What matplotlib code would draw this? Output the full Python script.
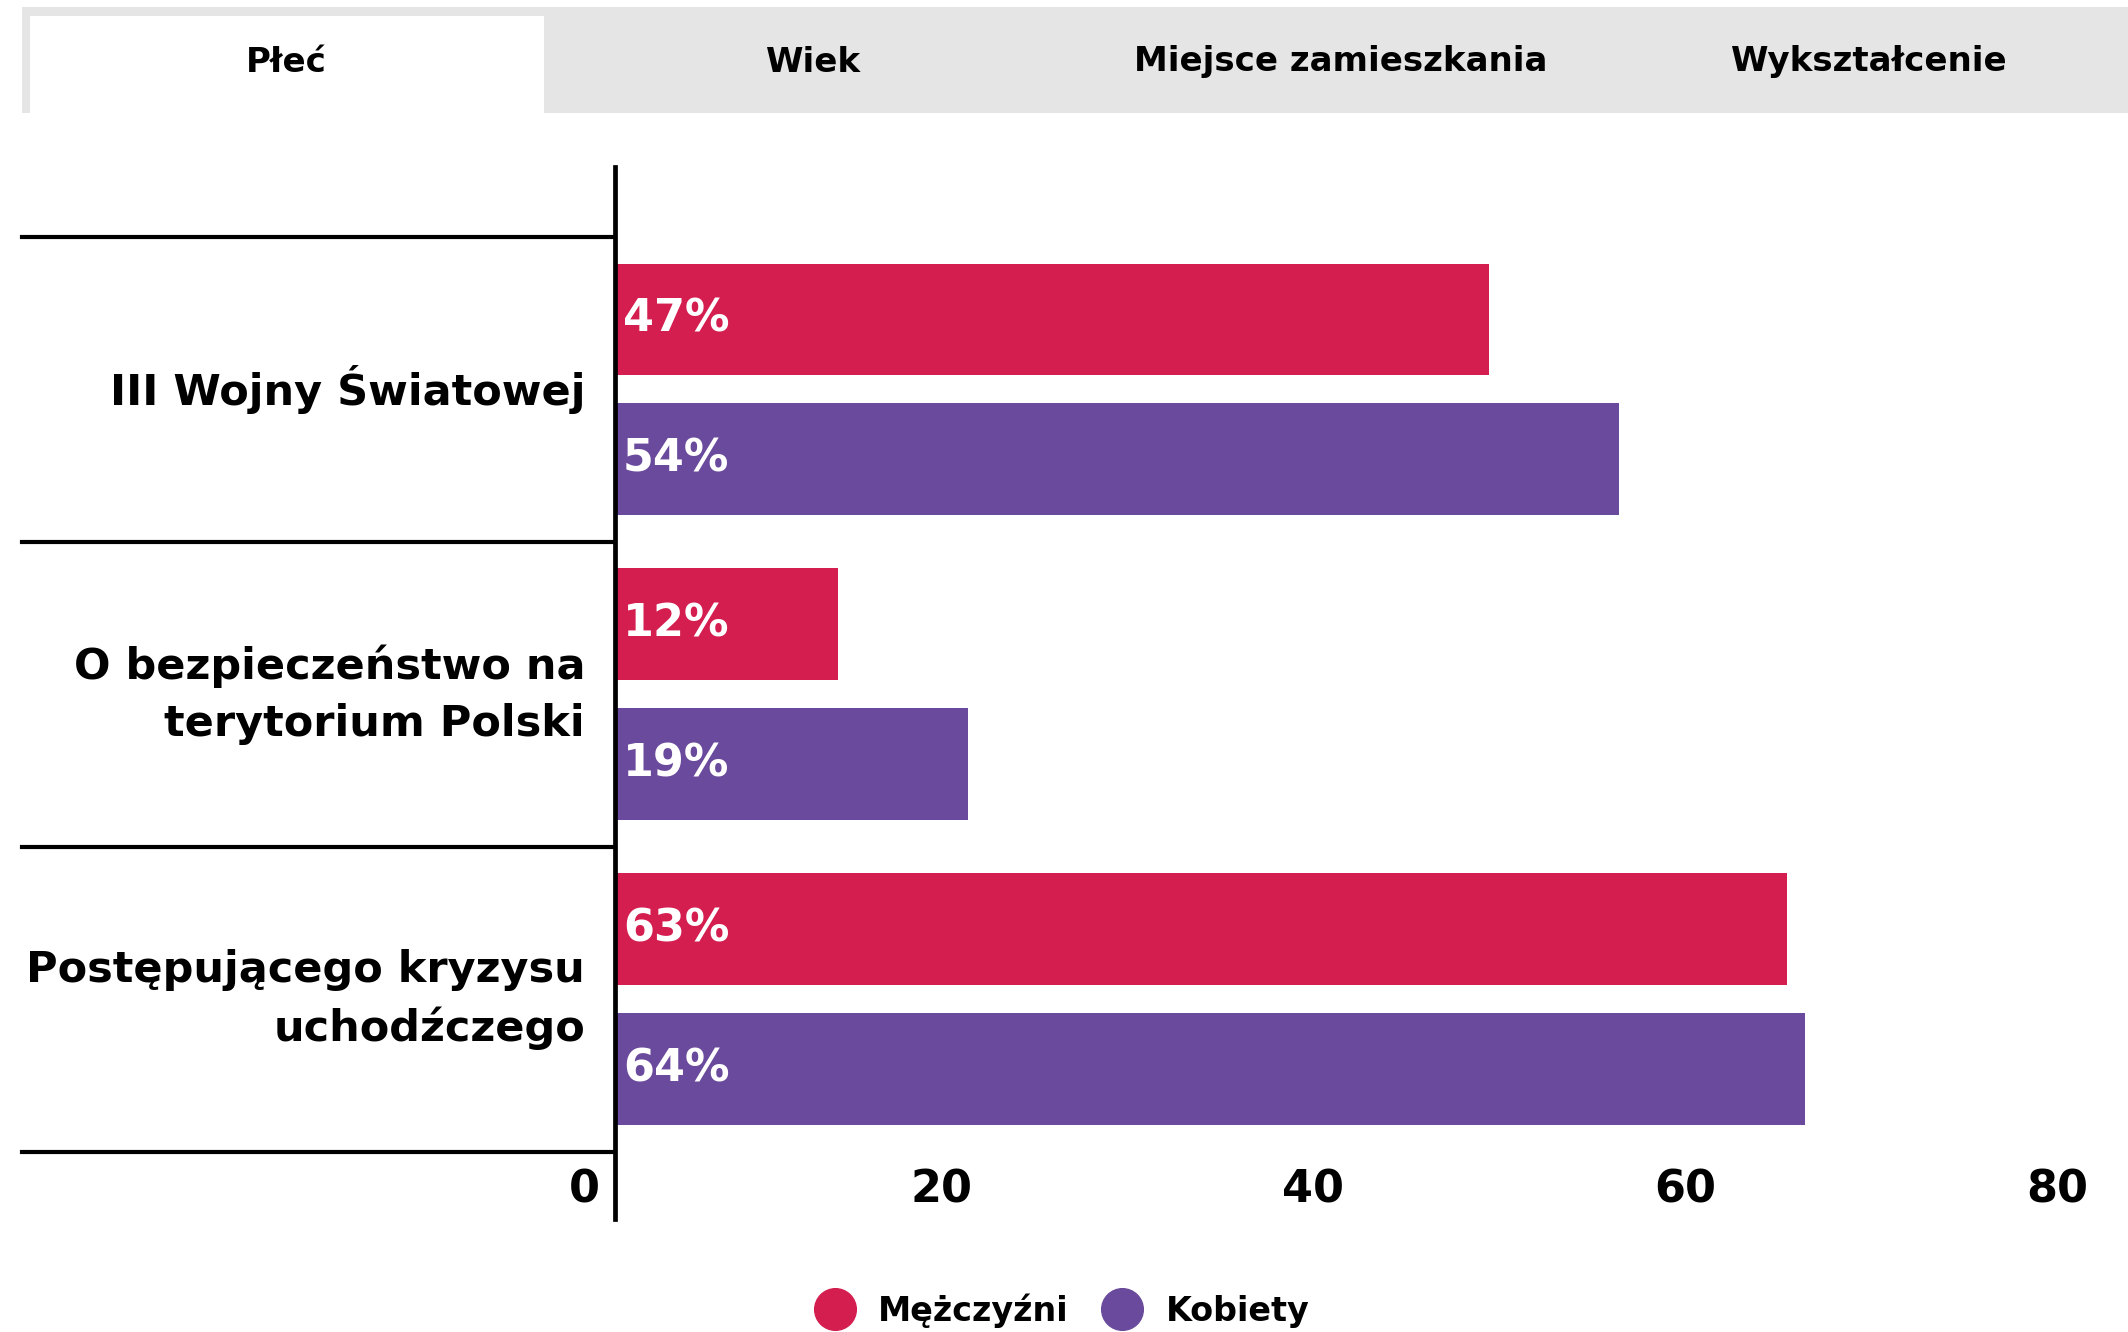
import matplotlib as mpl
mpl.use('Agg')
import matplotlib.pyplot as plt
from matplotlib.patches import Rectangle
from matplotlib.lines import Line2D
from matplotlib.transforms import offset_copy
import numpy

plt.rcParams['font.family'] = ['DejaVu Sans']

tabs = ['Płeć', 'Wiek', 'Miejsce zamieszkania', 'Wykształcenie']
categories = ['III Wojny Światowej', 'O bezpieczeństwo na\nterytorium Polski',
			  'Postępującego kryzysu\nuchodźczego']
men = [47, 12, 63]
women = [54, 19, 64]
series_names = ['Mężczyźni', 'Kobiety']
xticks = [0, 20, 40, 60, 80]

red = '#d41e50'
purple = '#6a4a9c'
W, H = 2128, 1332

fig = plt.figure(figsize=(W/100, H/100), dpi=100)

# tab bar on top
fig.add_artist(Rectangle((22/W, 1-113/H), 1-22/W, 106/H, transform=fig.transFigure,
						 facecolor='#e5e5e5', edgecolor='none'))
fig.add_artist(Rectangle((30/W, 1-113/H), 514/W, 97/H, transform=fig.transFigure,
						 facecolor='white', edgecolor='none'))
tab_x = [286, 814, 1341, 1869]
for t, x in zip(tabs, tab_x):
	fig.text(x/W, 1-62/H, t, ha='center', va='center', fontsize=24.5, fontweight='bold')

ax = fig.add_axes([615/W, 1-1219/H, (2103-615)/W, (1219-167)/H])
y = numpy.arange(len(categories))
ax.barh(y+0.27, men, height=0.367, color=red, label=series_names[0])
ax.barh(y+0.727, women, height=0.367, color=purple, label=series_names[1])
ax.set_xlim(0, 80)
ax.set_ylim(3.22, -0.23)
for s in ['top', 'right', 'bottom']:
	ax.spines[s].set_visible(False)
ax.spines['left'].set_linewidth(3.4)
ax.set_xticks([])
ax.set_yticks([])

lab_tr = offset_copy(ax.transData, fig=fig, x=8, y=0, units='dots')
for i in range(len(categories)):
	ax.text(0, i+0.27, '%d%%' % men[i], transform=lab_tr, ha='left', va='center',
			color='white', fontsize=32, fontweight='bold')
	ax.text(0, i+0.727, '%d%%' % women[i], transform=lab_tr, ha='left', va='center',
			color='white', fontsize=32, fontweight='bold')
	ax.text(-30/1488, i+0.5, categories[i], transform=ax.get_yaxis_transform(),
			ha='right', va='center', fontsize=31, fontweight='bold', linespacing=1.45)

# separators in the label area
for yy in range(len(categories)+1):
	ax.plot([-593/1488, 0], [yy, yy], color='black', lw=3,
			transform=ax.get_yaxis_transform(), clip_on=False)

tick_tr = offset_copy(ax.transData, fig=fig, x=-15, y=0, units='dots')
for v in xticks:
	ax.text(v, 3.125, str(v), transform=tick_tr, ha='right', va='center',
			fontsize=32, fontweight='bold')

handles = [Line2D([], [], marker='o', ls='none', markersize=30, color=c) for c in [red, purple]]
fig.legend(handles, series_names, loc='center', bbox_to_anchor=(0.496, 0.016), ncol=2,
		   frameon=False, prop={'weight': 'bold', 'size': 24},
		   handletextpad=0.3, columnspacing=0.6)

plt.savefig('out.png', dpi=100)
